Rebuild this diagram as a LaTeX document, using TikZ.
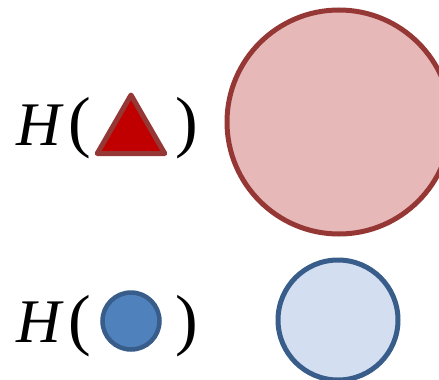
\documentclass[tikz,border=0pt]{standalone}
\usepackage{fontspec}
\setmainfont{Liberation Serif}
\usepackage{xcolor}
\usepackage{tikz}
\usetikzlibrary{shapes.geometric}

\definecolor{darkred}{HTML}{953735}
\definecolor{fillred}{HTML}{C00000}
\definecolor{palered}{HTML}{E6B9B8}
\definecolor{darkblue}{HTML}{385D8A}
\definecolor{fillblue}{HTML}{4F81BD}
\definecolor{paleblue}{HTML}{D3DEF0}

\begin{document}
\begin{tikzpicture}[
  x=1pt, y=-1pt,
  letter/.style={inner sep=0pt, font=\fontsize{62}{62}\selectfont},
  paren/.style={inner sep=0pt, font=\fontsize{68}{68}\selectfont},
  tri/.style={regular polygon, regular polygon sides=3, draw=darkred, fill=fillred, line width=5pt, line join=round, minimum size=78pt, inner sep=0pt},
  dot/.style={circle, draw=darkblue, fill=fillblue, line width=4.5pt, minimum size=57pt, inner sep=0pt},
  bigred/.style={circle, draw=darkred, fill=palered, line width=5pt, minimum size=224pt, inner sep=0pt},
  bigblue/.style={circle, draw=darkblue, fill=paleblue, line width=5pt, minimum size=120pt, inner sep=0pt}
]
\useasboundingbox (0,0) rectangle (439,380);
% first row
\node[letter] (h1) at (40,125) {\textit{H}};
\node[paren] (lp1) at (80,128) {(};
\node[tri] (tri1) at (131,134) {};
\node[paren] (rp1) at (187,128) {)};
\node[bigred] (c1) at (339,122) {};
% second row
\node[letter] (h2) at (40,322) {\textit{H}};
\node[paren] (lp2) at (80,326) {(};
\node[dot] (dot2) at (131,321) {};
\node[paren] (rp2) at (187,326) {)};
\node[bigblue] (c2) at (338,320) {};
\end{tikzpicture}
\end{document}
